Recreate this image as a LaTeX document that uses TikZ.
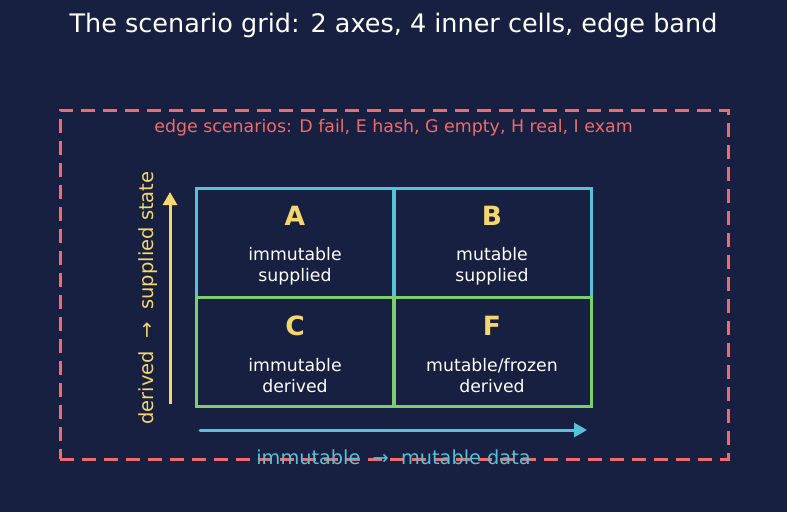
\documentclass[tikz,border=0pt]{standalone}
\usepackage{fontspec}
\setmainfont{DejaVu Sans}
\usetikzlibrary{arrows.meta}
\definecolor{bg}{HTML}{172040}
\definecolor{edgered}{HTML}{F06B6B}
\definecolor{cy}{HTML}{56C2DA}
\definecolor{gr}{HTML}{7CCF6F}
\definecolor{yel}{HTML}{F5D76E}
\tikzset{
  cellA/.style={draw=cy, line width=3pt, minimum width=197pt, minimum height=109pt, anchor=north west, inner sep=0pt, outer sep=0pt},
  cellC/.style={draw=gr, line width=3pt, minimum width=197pt, minimum height=109pt, anchor=north west, inner sep=0pt, outer sep=0pt},
  letter/.style={text=yel, font=\fontsize{26.5}{30}\selectfont\bfseries},
  desc/.style={text=white, font=\fontsize{17.3}{21}\selectfont, align=center},
}
\begin{document}
\begin{tikzpicture}[x=1pt,y=-1pt]
\useasboundingbox[fill=bg] (0,0) rectangle (787,512);
\node[text=white, font=\fontsize{25.5}{30}\selectfont] (title) at (393.5,25) {The scenario grid: 2 axes, 4 inner cells, edge band};
\node[draw=edgered, line width=3pt, dash pattern=on 14pt off 8pt, minimum width=668pt, minimum height=349pt, anchor=north west, inner sep=0pt, outer sep=0pt] (band) at (60,110) {};
\node[text=edgered, font=\fontsize{17.4}{21}\selectfont] (edgelbl) at (393.5,128) {edge scenarios: D fail, E hash, G empty, H real, I exam};
\node[cellA] (A) at (196,188) {};
\node[cellA] (B) at (394,188) {};
\node[cellC] (C) at (196,297) {};
\node[cellC] (F) at (394,297) {};
\node[letter] (la) at (295,216) {A};
\node[letter] (lb) at (492,216) {B};
\node[letter] (lc) at (295,326) {C};
\node[letter] (lf) at (492,326) {F};
\node[desc] (da) at (295,266) {immutable\\supplied};
\node[desc] (db) at (492,266) {mutable\\supplied};
\node[desc] (dc) at (295,376) {immutable\\derived};
\node[desc] (df) at (492,376) {mutable/frozen\\derived};
\coordinate (ybot) at (170,404);
\coordinate (ytop) at (170,192);
\draw[yel, line width=3pt, -{Triangle[length=13pt,width=14pt]}] (ybot) -- (ytop);
\node[text=yel, rotate=90, font=\fontsize{19.5}{23}\selectfont] (ylbl) at (148,298) {derived\ \ → \ supplied state};
\coordinate (xl) at (200,430);
\coordinate (xr) at (587,430);
\draw[cy, line width=3pt, line cap=round, -{Triangle[length=13pt,width=14pt]}] (xl) -- (xr);
\node[text=cy, font=\fontsize{19.3}{23}\selectfont] (xlbl) at (393.5,457) {immutable\ \ → \ mutable data};
\end{tikzpicture}
\end{document}
